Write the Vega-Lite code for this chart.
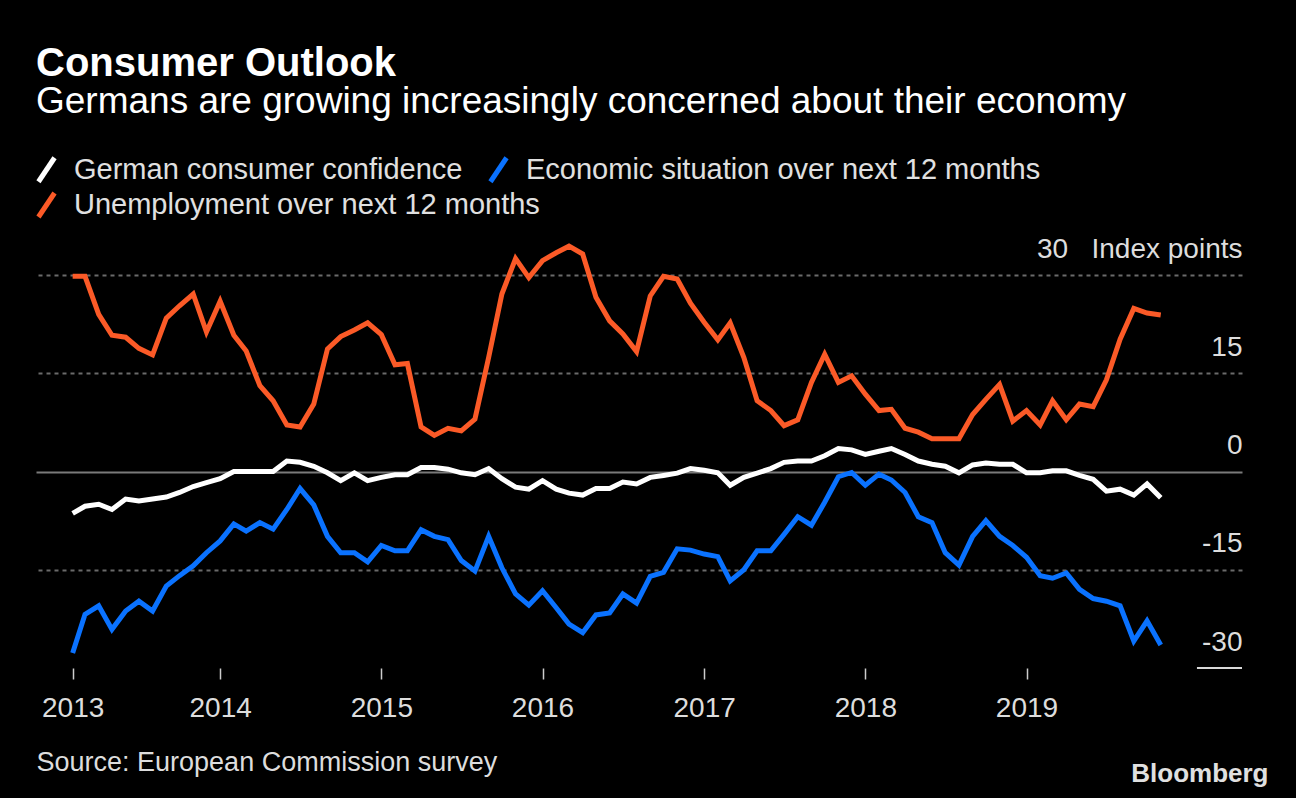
{
  "$schema": "https://vega.github.io/schema/vega-lite/v6.json",
  "width": 1206,
  "height": 393,
  "autosize": {"type": "none"},
  "padding": {"left": 36, "top": 275, "right": 54, "bottom": 130},
  "background": "#000000",
  "config": {"view": {"stroke": null}, "font": "Liberation Sans"},
  "title": {
    "text": "Consumer Outlook",
    "subtitle": "Germans are growing increasingly concerned about their economy",
    "anchor": "start",
    "frame": "group",
    "font": "Liberation Sans",
    "fontSize": 40,
    "fontWeight": "bold",
    "color": "#ffffff",
    "subtitleFont": "Liberation Sans",
    "subtitleFontSize": 37,
    "subtitleColor": "#ffffff",
    "subtitlePadding": 0,
    "offset": 35
  },
  "data": {
    "values": [
      {"date": "2013-02-01", "confidence": -6.4, "economic": -27.7, "unemployment": 29.8},
      {"date": "2013-03-01", "confidence": -5.3, "economic": -21.8, "unemployment": 29.8},
      {"date": "2013-04-01", "confidence": -5.0, "economic": -20.5, "unemployment": 24.0},
      {"date": "2013-05-01", "confidence": -5.8, "economic": -24.1, "unemployment": 20.8},
      {"date": "2013-06-01", "confidence": -4.2, "economic": -21.3, "unemployment": 20.5},
      {"date": "2013-07-01", "confidence": -4.5, "economic": -19.8, "unemployment": 18.8},
      {"date": "2013-08-01", "confidence": -4.2, "economic": -21.3, "unemployment": 17.8},
      {"date": "2013-09-01", "confidence": -3.9, "economic": -17.5, "unemployment": 23.4},
      {"date": "2013-10-01", "confidence": -3.2, "economic": -15.9, "unemployment": 25.3},
      {"date": "2013-11-01", "confidence": -2.3, "economic": -14.4, "unemployment": 27.1},
      {"date": "2013-12-01", "confidence": -1.7, "economic": -12.4, "unemployment": 21.3},
      {"date": "2014-01-01", "confidence": -1.1, "economic": -10.6, "unemployment": 26.0},
      {"date": "2014-02-01", "confidence": 0.0, "economic": -8.0, "unemployment": 20.8},
      {"date": "2014-03-01", "confidence": 0.0, "economic": -9.1, "unemployment": 18.4},
      {"date": "2014-04-01", "confidence": 0.0, "economic": -7.8, "unemployment": 13.1},
      {"date": "2014-05-01", "confidence": 0.0, "economic": -8.8, "unemployment": 10.8},
      {"date": "2014-06-01", "confidence": 1.6, "economic": -5.8, "unemployment": 7.1},
      {"date": "2014-07-01", "confidence": 1.4, "economic": -2.6, "unemployment": 6.8},
      {"date": "2014-08-01", "confidence": 0.8, "economic": -5.1, "unemployment": 10.3},
      {"date": "2014-09-01", "confidence": -0.2, "economic": -9.9, "unemployment": 18.7},
      {"date": "2014-10-01", "confidence": -1.4, "economic": -12.4, "unemployment": 20.6},
      {"date": "2014-11-01", "confidence": -0.2, "economic": -12.4, "unemployment": 21.6},
      {"date": "2014-12-01", "confidence": -1.4, "economic": -13.8, "unemployment": 22.7},
      {"date": "2015-01-01", "confidence": -0.9, "economic": -11.3, "unemployment": 20.9},
      {"date": "2015-02-01", "confidence": -0.5, "economic": -12.1, "unemployment": 16.3},
      {"date": "2015-03-01", "confidence": -0.5, "economic": -12.1, "unemployment": 16.5},
      {"date": "2015-04-01", "confidence": 0.6, "economic": -8.9, "unemployment": 6.8},
      {"date": "2015-05-01", "confidence": 0.6, "economic": -9.9, "unemployment": 5.5},
      {"date": "2015-06-01", "confidence": 0.35, "economic": -10.4, "unemployment": 6.6},
      {"date": "2015-07-01", "confidence": -0.2, "economic": -13.6, "unemployment": 6.2},
      {"date": "2015-08-01", "confidence": -0.5, "economic": -15.2, "unemployment": 8.0},
      {"date": "2015-09-01", "confidence": 0.45, "economic": -9.9, "unemployment": 17.4},
      {"date": "2015-10-01", "confidence": -1.1, "economic": -14.7, "unemployment": 27.1},
      {"date": "2015-11-01", "confidence": -2.4, "economic": -18.7, "unemployment": 32.5},
      {"date": "2015-12-01", "confidence": -2.7, "economic": -20.4, "unemployment": 29.6},
      {"date": "2016-01-01", "confidence": -1.4, "economic": -18.2, "unemployment": 32.2},
      {"date": "2016-02-01", "confidence": -2.7, "economic": -20.8, "unemployment": 33.4},
      {"date": "2016-03-01", "confidence": -3.3, "economic": -23.3, "unemployment": 34.4},
      {"date": "2016-04-01", "confidence": -3.6, "economic": -24.6, "unemployment": 33.2},
      {"date": "2016-05-01", "confidence": -2.6, "economic": -21.9, "unemployment": 26.6},
      {"date": "2016-06-01", "confidence": -2.6, "economic": -21.6, "unemployment": 23.0},
      {"date": "2016-07-01", "confidence": -1.6, "economic": -18.7, "unemployment": 21.0},
      {"date": "2016-08-01", "confidence": -1.9, "economic": -20.1, "unemployment": 18.3},
      {"date": "2016-09-01", "confidence": -0.9, "economic": -16.0, "unemployment": 26.8},
      {"date": "2016-10-01", "confidence": -0.6, "economic": -15.4, "unemployment": 29.8},
      {"date": "2016-11-01", "confidence": -0.25, "economic": -11.8, "unemployment": 29.4},
      {"date": "2016-12-01", "confidence": 0.45, "economic": -12.0, "unemployment": 25.7},
      {"date": "2017-01-01", "confidence": 0.2, "economic": -12.6, "unemployment": 22.8},
      {"date": "2017-02-01", "confidence": -0.2, "economic": -13.0, "unemployment": 20.1},
      {"date": "2017-03-01", "confidence": -2.1, "economic": -16.7, "unemployment": 22.7},
      {"date": "2017-04-01", "confidence": -0.9, "economic": -15.0, "unemployment": 17.4},
      {"date": "2017-05-01", "confidence": -0.25, "economic": -12.1, "unemployment": 10.8},
      {"date": "2017-06-01", "confidence": 0.45, "economic": -12.1, "unemployment": 9.3},
      {"date": "2017-07-01", "confidence": 1.4, "economic": -9.6, "unemployment": 7.0},
      {"date": "2017-08-01", "confidence": 1.6, "economic": -6.9, "unemployment": 7.9},
      {"date": "2017-09-01", "confidence": 1.6, "economic": -8.2, "unemployment": 13.6},
      {"date": "2017-10-01", "confidence": 2.4, "economic": -4.7, "unemployment": 17.9},
      {"date": "2017-11-01", "confidence": 3.5, "economic": -0.8, "unemployment": 13.6},
      {"date": "2017-12-01", "confidence": 3.3, "economic": -0.15, "unemployment": 14.6},
      {"date": "2018-01-01", "confidence": 2.6, "economic": -2.1, "unemployment": 11.8},
      {"date": "2018-02-01", "confidence": 3.1, "economic": -0.4, "unemployment": 9.3},
      {"date": "2018-03-01", "confidence": 3.5, "economic": -1.3, "unemployment": 9.5},
      {"date": "2018-04-01", "confidence": 2.6, "economic": -3.2, "unemployment": 6.6},
      {"date": "2018-05-01", "confidence": 1.6, "economic": -6.9, "unemployment": 6.0},
      {"date": "2018-06-01", "confidence": 1.1, "economic": -7.8, "unemployment": 5.0},
      {"date": "2018-07-01", "confidence": 0.8, "economic": -12.4, "unemployment": 5.0},
      {"date": "2018-08-01", "confidence": -0.2, "economic": -14.3, "unemployment": 5.0},
      {"date": "2018-09-01", "confidence": 1.0, "economic": -9.9, "unemployment": 8.7},
      {"date": "2018-10-01", "confidence": 1.3, "economic": -7.5, "unemployment": 11.0},
      {"date": "2018-11-01", "confidence": 1.1, "economic": -9.9, "unemployment": 13.3},
      {"date": "2018-12-01", "confidence": 1.1, "economic": -11.3, "unemployment": 7.7},
      {"date": "2019-01-01", "confidence": -0.2, "economic": -13.1, "unemployment": 9.3},
      {"date": "2019-02-01", "confidence": -0.2, "economic": -15.9, "unemployment": 7.1},
      {"date": "2019-03-01", "confidence": 0.1, "economic": -16.3, "unemployment": 10.8},
      {"date": "2019-04-01", "confidence": 0.1, "economic": -15.5, "unemployment": 7.9},
      {"date": "2019-05-01", "confidence": -0.6, "economic": -18.0, "unemployment": 10.3},
      {"date": "2019-06-01", "confidence": -1.2, "economic": -19.4, "unemployment": 9.9},
      {"date": "2019-07-01", "confidence": -3.0, "economic": -19.8, "unemployment": 14.0},
      {"date": "2019-08-01", "confidence": -2.7, "economic": -20.5, "unemployment": 20.2},
      {"date": "2019-09-01", "confidence": -3.6, "economic": -25.9, "unemployment": 24.9},
      {"date": "2019-10-01", "confidence": -1.9, "economic": -22.8, "unemployment": 24.2},
      {"date": "2019-11-01", "confidence": -4.0, "economic": -26.5, "unemployment": 23.9}
    ]
  },
  "layer": [
    {
      "data": {"values": [{}]},
      "mark": {"type": "rule", "color": "#d9d9d9", "strokeWidth": 2},
      "encoding": {
        "y": {"datum": -30, "type": "quantitative"},
        "x": {"datum": {"year": 2020, "month": 1, "date": 22, "utc": true}, "type": "temporal"},
        "x2": {"datum": {"year": 2020, "month": 5, "date": 3, "utc": true}}
      }
    },
    {
      "transform": [{"fold": ["confidence", "economic"], "as": ["series", "value"]}],
      "mark": {"type": "line", "strokeWidth": 5, "strokeJoin": "miter"},
      "encoding": {
        "x": {
          "field": "date",
          "type": "temporal",
          "scale": {
            "type": "utc",
            "domain": [
              {"year": 2012, "month": 11, "date": 10, "utc": true},
              {"year": 2020, "month": 5, "date": 3, "utc": true}
            ]
          },
          "axis": {
            "values": [
              {"year": 2013, "month": 2, "date": 1, "utc": true},
              {"year": 2014, "month": 1, "date": 1, "utc": true},
              {"year": 2015, "month": 1, "date": 1, "utc": true},
              {"year": 2016, "month": 1, "date": 1, "utc": true},
              {"year": 2017, "month": 1, "date": 1, "utc": true},
              {"year": 2018, "month": 1, "date": 1, "utc": true},
              {"year": 2019, "month": 1, "date": 1, "utc": true}
            ],
            "labelExpr": "utcFormat(datum.value, '%Y')",
            "grid": false,
            "domain": false,
            "ticks": true,
            "tickColor": "#cccccc",
            "tickSize": 11,
            "tickWidth": 1.5,
            "labelColor": "#dddddd",
            "labelFont": "Liberation Sans",
            "labelFontSize": 28,
            "labelPadding": 15,
            "labelFlush": false,
            "labelOverlap": false,
            "title": "Source: European Commission survey",
            "titleX": 0,
            "titleY": 102,
            "titleAlign": "left",
            "titleAnchor": "start",
            "titleBaseline": "alphabetic",
            "titleFont": "Liberation Sans",
            "titleFontSize": 27,
            "titleFontWeight": "normal",
            "titleColor": "#dddddd"
          }
        },
        "y": {
          "field": "value",
          "type": "quantitative",
          "scale": {"domain": [-30, 30], "nice": false, "zero": false},
          "axis": {
            "orient": "right",
            "values": [-30, -15, 0, 15, 30],
            "labelExpr": "datum.value == 30 ? '30\u00a0\u00a0\u00a0Index points' : '' + datum.value",
            "ticks": false,
            "domain": false,
            "labelAlign": "right",
            "labelBaseline": "alphabetic",
            "labelOffset": -18,
            "labelPadding": 0,
            "labelFont": "Liberation Sans",
            "labelFontSize": 28,
            "labelColor": "#dddddd",
            "labelOverlap": false,
            "labelBound": false,
            "labelLimit": 400,
            "grid": true,
            "gridWidth": 2,
            "gridColor": {"condition": {"test": "datum.value === 0", "value": "#7a7a7a"}, "value": "#6a6a6a"},
            "gridDash": {"condition": {"test": "datum.value === 0", "value": []}, "value": [4, 4]},
            "gridOpacity": {"condition": {"test": "datum.value === -30", "value": 0}, "value": 1},
            "title": "Bloomberg",
            "titleAngle": 0,
            "titleAlign": "right",
            "titleBaseline": "alphabetic",
            "titleX": 26,
            "titleY": 506,
            "titleFont": "Liberation Sans",
            "titleFontSize": 26,
            "titleFontWeight": "bold",
            "titleColor": "#e0e0e0"
          }
        },
        "color": {
          "field": "series",
          "type": "nominal",
          "scale": {"domain": ["confidence", "economic"], "range": ["#ffffff", "#0a72ff"]},
          "legend": {
            "orient": "none",
            "legendX": -4,
            "legendY": -120,
            "direction": "horizontal",
            "title": null,
            "padding": 0,
            "symbolType": "M-0.67,1L0.67,-1",
            "symbolSize": 576,
            "symbolStrokeWidth": 5,
            "labelFont": "Liberation Sans",
            "labelFontSize": 29,
            "labelColor": "#e0e0e0",
            "labelOffset": 13,
            "labelLimit": 900,
            "columnPadding": 17,
            "labelExpr": "datum.value == 'confidence' ? 'German consumer confidence' : 'Economic situation over next 12 months'"
          }
        }
      }
    },
    {
      "transform": [{"fold": ["unemployment"], "as": ["series", "value"]}],
      "mark": {"type": "line", "strokeWidth": 5, "strokeJoin": "miter"},
      "encoding": {
        "x": {
          "field": "date",
          "type": "temporal",
          "scale": {
            "type": "utc",
            "domain": [
              {"year": 2012, "month": 11, "date": 10, "utc": true},
              {"year": 2020, "month": 5, "date": 3, "utc": true}
            ]
          }
        },
        "y": {
          "field": "value",
          "type": "quantitative",
          "scale": {"domain": [-30, 30], "nice": false, "zero": false}
        },
        "stroke": {
          "field": "series",
          "type": "nominal",
          "scale": {"domain": ["unemployment"], "range": ["#fb5a27"]},
          "legend": {
            "orient": "none",
            "legendX": -4,
            "legendY": -84.5,
            "direction": "horizontal",
            "title": null,
            "padding": 0,
            "symbolType": "M-0.67,1L0.67,-1",
            "symbolSize": 576,
            "symbolStrokeWidth": 5,
            "labelFont": "Liberation Sans",
            "labelFontSize": 29,
            "labelColor": "#e0e0e0",
            "labelOffset": 13,
            "labelLimit": 900,
            "labelExpr": "'Unemployment over next 12 months'"
          }
        }
      }
    }
  ]
}
